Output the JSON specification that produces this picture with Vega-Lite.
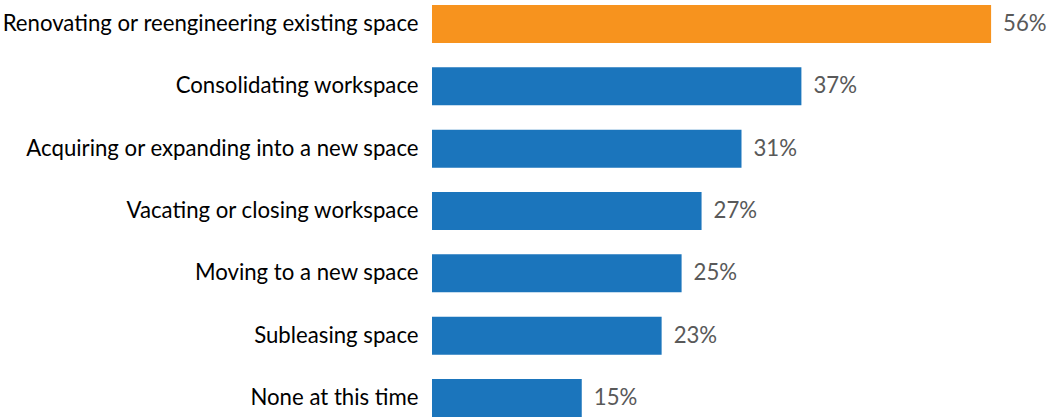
{
  "$schema": "https://vega.github.io/schema/vega-lite/v6.json",
  "width": 618,
  "height": 422,
  "autosize": "none",
  "padding": {"left": 432, "top": 0, "right": 0, "bottom": 0},
  "background": "white",
  "config": {"view": {"stroke": null}, "font": "Lato"},
  "data": {"values": [
    {"label": "Renovating or reengineering existing space", "value": 56, "pct": "56%", "hl": "yes"},
    {"label": "Consolidating workspace\u00a0", "value": 37, "pct": "37%", "hl": "no"},
    {"label": "Acquiring or expanding into a new space", "value": 31, "pct": "31%", "hl": "no"},
    {"label": "Vacating or closing workspace", "value": 27, "pct": "27%", "hl": "no"},
    {"label": "Moving to a new space", "value": 25, "pct": "25%", "hl": "no"},
    {"label": "Subleasing space", "value": 23, "pct": "23%", "hl": "no"},
    {"label": "None at this time", "value": 15, "pct": "15%", "hl": "no"}
  ]},
  "encoding": {
    "y": {"field": "label", "type": "nominal", "sort": null,
      "scale": {"paddingInner": 0.39, "paddingOuter": 0.08},
      "axis": {"title": null, "domain": false, "ticks": false, "labelFont": "Lato", "labelFontSize": 22.2, "labelColor": "#000000", "labelPadding": 14, "labelLimit": 500}},
    "x": {"field": "value", "type": "quantitative", "scale": {"domain": [0, 61.9], "nice": false, "zero": true}, "axis": null}
  },
  "layer": [
    {"mark": {"type": "bar"},
     "encoding": {"color": {"field": "hl", "type": "nominal", "scale": {"domain": ["yes", "no"], "range": ["#F7931E", "#1B75BC"]}, "legend": null}}},
    {"mark": {"type": "text", "align": "left", "baseline": "middle", "dx": 12, "font": "Lato", "fontSize": 22.2, "color": "#595959"},
     "encoding": {"text": {"field": "pct", "type": "nominal"}}}
  ]
}
